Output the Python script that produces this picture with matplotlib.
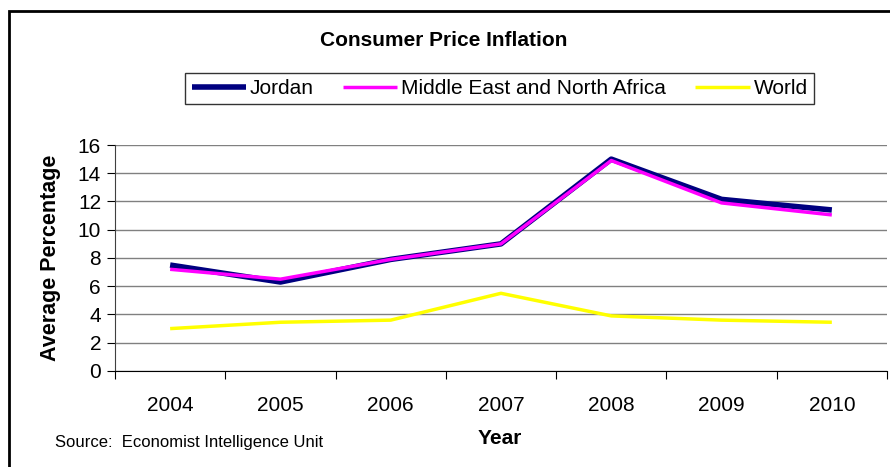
import matplotlib
matplotlib.use("Agg")
import matplotlib.pyplot as plt
from matplotlib.patches import Rectangle

plt.rcParams['font.family'] = ['Liberation Sans', 'DejaVu Sans']

years = ["2004", "2005", "2006", "2007", "2008", "2009", "2010"]
jordan = [7.5, 6.3, 7.9, 9.0, 15.0, 12.15, 11.4]
mena = [7.2, 6.5, 7.9, 9.0, 14.9, 11.9, 11.05]
world = [3.0, 3.45, 3.6, 5.5, 3.9, 3.6, 3.45]
yticks = [0, 2, 4, 6, 8, 10, 12, 14, 16]

fig = plt.figure(figsize=(8.9, 4.67), dpi=100)
ax = fig.add_axes([0.1292, 0.2056, 0.8674, 0.4839])

x = list(range(len(years)))
ax.plot(x, jordan, color="#000080", lw=4.0, label="Jordan", solid_capstyle="butt", zorder=3)
ax.plot(x, mena, color="#FF00FF", lw=2.5, label="Middle East and North Africa", solid_capstyle="butt", zorder=4)
ax.plot(x, world, color="#FFFF00", lw=2.5, label="World", solid_capstyle="butt", zorder=4)

ax.set_xlim(-0.5, len(years) - 0.5)
ax.set_ylim(0, 16)
ax.set_yticks(yticks)
ax.set_yticklabels([str(v) for v in yticks], fontsize=15)
ax.set_xticks([i - 0.5 for i in range(len(years) + 1)])
ax.set_xticklabels([])
ax.set_xticks(x, minor=True)
ax.set_xticklabels(years, minor=True, fontsize=15)
ax.tick_params(axis='x', which='major', length=6, direction='out', color='black')
ax.tick_params(axis='x', which='minor', length=0, pad=18)
ax.tick_params(axis='y', length=6, direction='out', pad=4)
ax.grid(axis='y', color='#808080', lw=1.0)
ax.set_axisbelow(True)
for s in ['top', 'right']:
    ax.spines[s].set_visible(False)
ax.spines['left'].set_color('#404040')
ax.spines['bottom'].set_color('black')

ax.set_ylabel("Average Percentage", fontsize=15.5, fontweight='bold', labelpad=12)
fig.text(0.562, 0.061, "Year", fontsize=15, fontweight='bold', ha='center', va='center')
fig.text(0.062, 0.053, "Source:  Economist Intelligence Unit", fontsize=12, ha='left', va='center')
fig.text(0.498, 0.913, "Consumer Price Inflation", fontsize=15, fontweight='bold', ha='center', va='center')

leg = fig.legend(loc='center', bbox_to_anchor=(0.5615, 0.81), ncol=3, fontsize=15,
                 frameon=True, fancybox=False, edgecolor='black', handlelength=2.6,
                 handletextpad=0.2, columnspacing=1.4, borderpad=0.3)
leg.get_frame().set_linewidth(1.0)

fig.patches.append(Rectangle((9 / 890, -0.1), 1.2, 1 - 11 / 467 + 0.1, transform=fig.transFigure,
                             fill=False, edgecolor='black', lw=2.0, zorder=0))

fig.savefig("out.png", dpi=100)
